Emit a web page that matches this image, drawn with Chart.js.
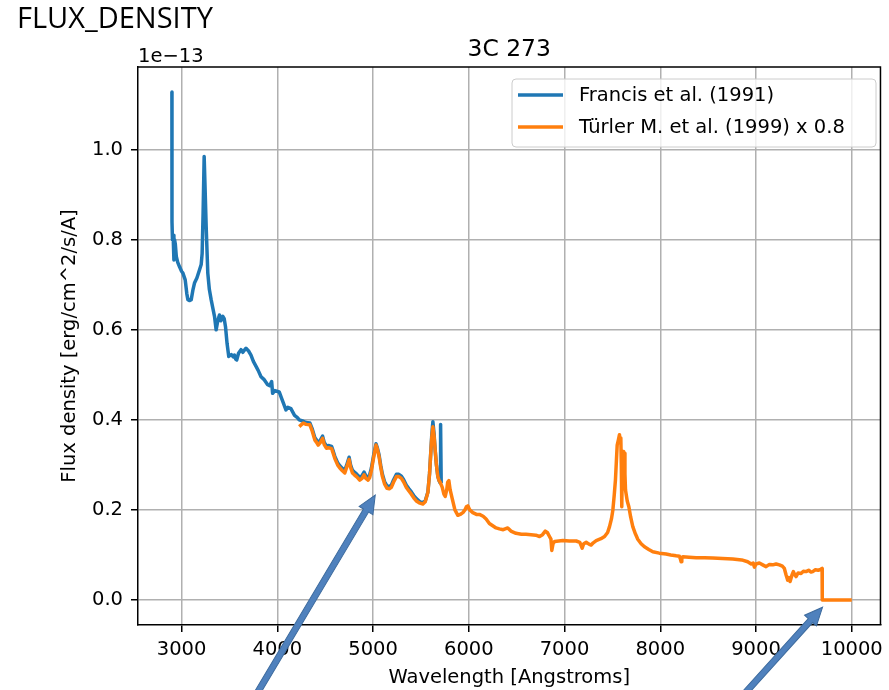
<!DOCTYPE html>
<html>
<head>
<meta charset="utf-8">
<script src="https://cdn.jsdelivr.net/npm/chart.js@4.4.1/dist/chart.umd.min.js"></script>
<style>
    html, body { margin: 0; padding: 0; background: #ffffff; }
    #wrap { position: relative; width: 889px; height: 690px; }
    #pageTitle {
        position: absolute; left: 17px; top: 2px;
        font-family: 'Open Sans', sans-serif; font-size: 29px; line-height: 29px;
        color: #000000;
    }
    canvas { position: absolute; left: 0; top: 0; }
</style>
</head>
<body>
<div id="wrap">
    <canvas id="fluxChart" width="889" height="690"></canvas>
    <div id="pageTitle">FLUX_DENSITY</div>
</div>
<script>
// Spectrum of 3C 273, flux values in units of 1e-13 erg/cm^2/s/A
const francisWave = [2899, 2900, 2905, 2912, 2920, 2927, 2935, 2945, 2960, 2979, 3000, 3014, 3038, 3055, 3066,
    3085, 3101, 3120, 3135, 3160, 3187, 3205, 3215, 3225, 3236, 3245, 3257, 3274, 3290, 3309, 3325, 3344, 3361,
    3378, 3396, 3410, 3431, 3445, 3459, 3475, 3493, 3520, 3540, 3552, 3565, 3576, 3595, 3621, 3640, 3660, 3673,
    3700, 3725, 3750, 3778, 3800, 3830, 3860, 3899, 3920, 3941, 3951, 3975, 4020, 4050, 4090, 4110, 4142, 4180,
    4210, 4229, 4271, 4300, 4340, 4365, 4393, 4410, 4427, 4450, 4473, 4490, 4514, 4540, 4567, 4585, 4601, 4630,
    4653, 4680, 4705, 4725, 4750, 4765, 4785, 4805, 4827, 4845, 4861, 4885, 4906, 4925, 4948, 4965, 4983, 5005,
    5031, 5045, 5063, 5080, 5098, 5120, 5146, 5170, 5191, 5215, 5244, 5270, 5296, 5320, 5348, 5375, 5400, 5425,
    5452, 5490, 5521, 5545, 5573, 5590, 5601, 5613, 5625, 5637, 5650, 5662, 5677, 5690, 5700, 5703, 5708, 5712];
const francisFlux = [1.128, 0.84, 0.80, 0.81, 0.755, 0.80, 0.79, 0.763, 0.75, 0.74, 0.73, 0.726, 0.711, 0.68, 0.667,
    0.665, 0.667, 0.69, 0.704, 0.715, 0.733, 0.745, 0.77, 0.86, 0.985, 0.92, 0.83, 0.726, 0.69, 0.667, 0.65, 0.63, 0.60,
    0.62, 0.633, 0.62, 0.63, 0.625, 0.607, 0.57, 0.541, 0.545, 0.54, 0.544, 0.535, 0.533, 0.548, 0.556, 0.55, 0.556, 0.559,
    0.553, 0.544, 0.53, 0.519, 0.51, 0.496, 0.49, 0.478, 0.476, 0.485, 0.459, 0.465, 0.462, 0.445, 0.422, 0.428, 0.425, 0.41,
    0.405, 0.40, 0.397, 0.394, 0.393, 0.38, 0.36, 0.355, 0.349, 0.355, 0.364, 0.35, 0.342, 0.343, 0.341, 0.33, 0.319, 0.305,
    0.298, 0.292, 0.288, 0.30, 0.317, 0.30, 0.288, 0.284, 0.280, 0.276, 0.272, 0.276, 0.284, 0.276, 0.272, 0.278, 0.293, 0.32,
    0.347, 0.338, 0.322, 0.299, 0.279, 0.263, 0.253, 0.252, 0.255, 0.267, 0.279, 0.279, 0.275, 0.267, 0.255, 0.247, 0.240, 0.232,
    0.225, 0.218, 0.216, 0.22, 0.24, 0.28, 0.32, 0.365, 0.396, 0.37, 0.33, 0.30, 0.274, 0.265, 0.26, 0.39, 0.39, 0.26];

const turlerWave = [4229, 4271, 4300, 4340, 4365, 4393, 4410, 4427, 4450, 4473, 4490, 4514, 4540, 4567, 4585, 4601,
    4630, 4653, 4680, 4705, 4725, 4750, 4765, 4785, 4805, 4827, 4845, 4861, 4885, 4906, 4925, 4948, 4965, 4983, 5005,
    5031, 5045, 5063, 5080, 5098, 5120, 5146, 5170, 5191, 5215, 5244, 5270, 5296, 5320, 5348, 5375, 5400, 5425, 5452,
    5490, 5521, 5545, 5573, 5590, 5601, 5613, 5625, 5637, 5650, 5662, 5677, 5690, 5700, 5723, 5740, 5754, 5770, 5780,
    5792, 5805, 5827, 5855, 5886, 5910, 5938, 5960, 5975, 5990, 6010, 6042, 6080, 6111, 6150, 6181, 6215, 6250, 6285,
    6320, 6360, 6407, 6440, 6493, 6550, 6597, 6650, 6700, 6739, 6770, 6799, 6820, 6843, 6858, 6867, 6880, 6896, 6940,
    6983, 7050, 7122, 7160, 7184, 7200, 7226, 7255, 7278, 7300, 7331, 7380, 7418, 7450, 7470, 7490, 7505, 7520, 7532,
    7542, 7550, 7562, 7574, 7582, 7588, 7593, 7598, 7603, 7609, 7617, 7625, 7631, 7637, 7655, 7672, 7690, 7713, 7740,
    7765, 7800, 7835, 7880, 7922, 7990, 8061, 8110, 8166, 8200, 8212, 8218, 8225, 8235, 8300, 8375, 8460, 8548, 8650,
    8757, 8850, 8913, 8950, 8970, 8983, 9000, 9035, 9070, 9105, 9140, 9174, 9210, 9244, 9275, 9296, 9315, 9331, 9345,
    9356, 9375, 9390, 9405, 9418, 9440, 9470, 9495, 9523, 9550, 9575, 9592, 9620, 9650, 9675, 9690, 9692, 10000];
const turlerFlux = [0.385, 0.393, 0.39, 0.389, 0.375, 0.355, 0.35, 0.344, 0.35, 0.359, 0.345, 0.337, 0.338, 0.336, 0.325,
    0.314, 0.30, 0.293, 0.287, 0.282, 0.295, 0.312, 0.295, 0.282, 0.278, 0.274, 0.27, 0.266, 0.27, 0.278, 0.27, 0.266, 0.272,
    0.288, 0.315, 0.344, 0.335, 0.318, 0.295, 0.274, 0.258, 0.248, 0.247, 0.250, 0.262, 0.274, 0.274, 0.270, 0.262, 0.250,
    0.242, 0.235, 0.227, 0.22, 0.215, 0.213, 0.218, 0.239, 0.28, 0.32, 0.36, 0.385, 0.365, 0.33, 0.30, 0.274, 0.265, 0.262,
    0.25, 0.235, 0.23, 0.245, 0.262, 0.265, 0.245, 0.225, 0.20, 0.188, 0.19, 0.194, 0.20, 0.207, 0.209, 0.20, 0.194, 0.19,
    0.19, 0.186, 0.18, 0.17, 0.165, 0.16, 0.158, 0.156, 0.16, 0.153, 0.148, 0.146, 0.146, 0.145, 0.144, 0.141, 0.145, 0.153,
    0.15, 0.141, 0.135, 0.11, 0.125, 0.13, 0.131, 0.132, 0.131, 0.131, 0.128, 0.115, 0.125, 0.128, 0.124, 0.122, 0.127, 0.132,
    0.136, 0.141, 0.15, 0.163, 0.18, 0.20, 0.235, 0.267, 0.31, 0.344, 0.355, 0.367, 0.35, 0.36, 0.30, 0.207, 0.29, 0.33, 0.33,
    0.326, 0.28, 0.244, 0.22, 0.207, 0.185, 0.163, 0.147, 0.135, 0.125, 0.118, 0.112, 0.107, 0.104, 0.102, 0.10, 0.098, 0.097,
    0.09, 0.085, 0.094, 0.096, 0.095, 0.094, 0.094, 0.093, 0.092, 0.091, 0.089, 0.085, 0.08, 0.082, 0.073, 0.08, 0.082, 0.078,
    0.074, 0.079, 0.078, 0.08, 0.078, 0.075, 0.07, 0.055, 0.044, 0.05, 0.041, 0.055, 0.063, 0.056, 0.052, 0.06, 0.059, 0.064,
    0.063, 0.066, 0.062, 0.063, 0.067, 0.066, 0.068, 0.07, 0.0, 0.0];

const xTicks = [3000, 4000, 5000, 6000, 7000, 8000, 9000, 10000];
const yTicks = [0.0, 0.2, 0.4, 0.6, 0.8, 1.0];

// annotation arrows (tail -> tip) in data coordinates
const arrowTails = [[3795, -0.205], [8893, -0.205]];
const arrowTips = [[5023, 0.233], [9695, -0.016]];

document.addEventListener('DOMContentLoaded', function() {
    Chart.defaults.font.family = "'DejaVu Sans', sans-serif";
    Chart.defaults.font.size = 19.5;
    Chart.defaults.color = '#000000';

    const colors = {
        blue: '#1f77b4',
        orange: '#ff7f0e',
        grid: '#b0b0b0',
        arrow: '#4f81bd',
        arrowEdge: '#3d6b9e'
    };

    function toPoints(xs, ys) {
        return xs.map(function(x, i) { return { x: x, y: ys[i] }; });
    }

    // frame, titles, legend and arrows drawn on top of the chart
    const decorPlugin = {
        id: 'decor',
        afterDraw: function(chart) {
            const ctx = chart.ctx;
            const area = chart.chartArea;
            const xs = chart.scales.x;
            const ys = chart.scales.y;
            ctx.save();

            // top and right spines
            ctx.strokeStyle = '#000000';
            ctx.lineWidth = 1.5;
            ctx.beginPath();
            ctx.moveTo(area.left, area.top);
            ctx.lineTo(area.right, area.top);
            ctx.lineTo(area.right, area.bottom);
            ctx.stroke();

            // axes title and offset text
            ctx.fillStyle = '#000000';
            ctx.font = "23.4px 'DejaVu Sans', sans-serif";
            ctx.textAlign = 'center';
            ctx.textBaseline = 'alphabetic';
            ctx.fillText('3C 273', (area.left + area.right) / 2, 56);
            ctx.font = "19.5px 'DejaVu Sans', sans-serif";
            ctx.textAlign = 'left';
            ctx.fillText('1e\u221213', area.left, 62);

            // legend
            const lx = 512, ly = 79, lw = 364, lh = 68;
            ctx.beginPath();
            ctx.roundRect(lx, ly, lw, lh, 4);
            ctx.fillStyle = 'rgba(255,255,255,0.8)';
            ctx.fill();
            ctx.strokeStyle = '#cccccc';
            ctx.lineWidth = 1;
            ctx.stroke();
            const legendItems = [chart.data.datasets[0], chart.data.datasets[1]];
            legendItems.forEach(function(ds, i) {
                const rowY = 95 + i * 32;
                ctx.strokeStyle = ds.borderColor;
                ctx.lineWidth = 3.5;
                ctx.beginPath();
                ctx.moveTo(518, rowY);
                ctx.lineTo(563, rowY);
                ctx.stroke();
                ctx.fillStyle = '#000000';
                ctx.textBaseline = 'middle';
                ctx.fillText(ds.label, 579, rowY + 1);
            });

            // pointer arrows
            arrowTails.forEach(function(tail, i) {
                const tip = arrowTips[i];
                const x0 = xs.getPixelForValue(tail[0]), y0 = ys.getPixelForValue(tail[1]);
                const x1 = xs.getPixelForValue(tip[0]), y1 = ys.getPixelForValue(tip[1]);
                const ang = Math.atan2(y1 - y0, x1 - x0);
                const len = Math.hypot(x1 - x0, y1 - y0);
                const shaft = 3, head = 8, headLen = 18;
                ctx.save();
                ctx.translate(x0, y0);
                ctx.rotate(ang);
                ctx.beginPath();
                ctx.moveTo(0, -shaft);
                ctx.lineTo(len - headLen, -shaft);
                ctx.lineTo(len - headLen, -head);
                ctx.lineTo(len, 0);
                ctx.lineTo(len - headLen, head);
                ctx.lineTo(len - headLen, shaft);
                ctx.lineTo(0, shaft);
                ctx.closePath();
                ctx.fillStyle = colors.arrow;
                ctx.fill();
                ctx.strokeStyle = colors.arrowEdge;
                ctx.lineWidth = 1;
                ctx.stroke();
                ctx.restore();
            });

            ctx.restore();
        }
    };

    new Chart(document.getElementById('fluxChart').getContext('2d'), {
        type: 'scatter',
        data: {
            datasets: [{
                label: 'Francis et al. (1991)',
                data: toPoints(francisWave, francisFlux),
                borderColor: colors.blue,
                backgroundColor: colors.blue,
                borderWidth: 3.5,
                showLine: true,
                pointRadius: 0,
                borderJoinStyle: 'round',
                order: 1
            }, {
                label: 'Türler M. et al. (1999) x 0.8',
                data: toPoints(turlerWave, turlerFlux),
                borderColor: colors.orange,
                backgroundColor: colors.orange,
                borderWidth: 3.5,
                showLine: true,
                pointRadius: 0,
                borderJoinStyle: 'round',
                order: 0
            }]
        },
        options: {
            responsive: false,
            animation: false,
            devicePixelRatio: 1,
            layout: {
                padding: { top: 67, right: 6, left: 0, bottom: 0 }
            },
            plugins: {
                legend: { display: false },
                tooltip: { enabled: false }
            },
            scales: {
                x: {
                    type: 'linear',
                    min: 2545,
                    max: 10300,
                    afterFit: function(scale) { scale.height = 65; },
                    afterBuildTicks: function(scale) {
                        scale.ticks = xTicks.map(function(v) { return { value: v }; });
                    },
                    grid: {
                        color: colors.grid,
                        lineWidth: 1.5,
                        tickColor: '#000000',
                        tickLength: 7,
                        tickWidth: 1.5
                    },
                    border: { color: '#000000', width: 1.5 },
                    ticks: {
                        padding: 6,
                        maxRotation: 0,
                        callback: function(value) { return String(value); }
                    },
                    title: {
                        display: true,
                        text: 'Wavelength [Angstroms]',
                        padding: { top: 0, bottom: 0 }
                    }
                },
                y: {
                    type: 'linear',
                    min: -0.0556,
                    max: 1.1838,
                    afterFit: function(scale) { scale.width = 138; },
                    afterBuildTicks: function(scale) {
                        scale.ticks = yTicks.map(function(v) { return { value: v }; });
                    },
                    grid: {
                        color: colors.grid,
                        lineWidth: 1.5,
                        tickColor: '#000000',
                        tickLength: 7,
                        tickWidth: 1.5
                    },
                    border: { color: '#000000', width: 1.5 },
                    ticks: {
                        padding: 8,
                        callback: function(value) { return Number(value).toFixed(1); }
                    },
                    title: {
                        display: true,
                        text: 'Flux density [erg/cm^2/s/A]',
                        padding: { top: 58, bottom: 0 }
                    }
                }
            }
        },
        plugins: [decorPlugin]
    });
});
</script>
</body>
</html>
